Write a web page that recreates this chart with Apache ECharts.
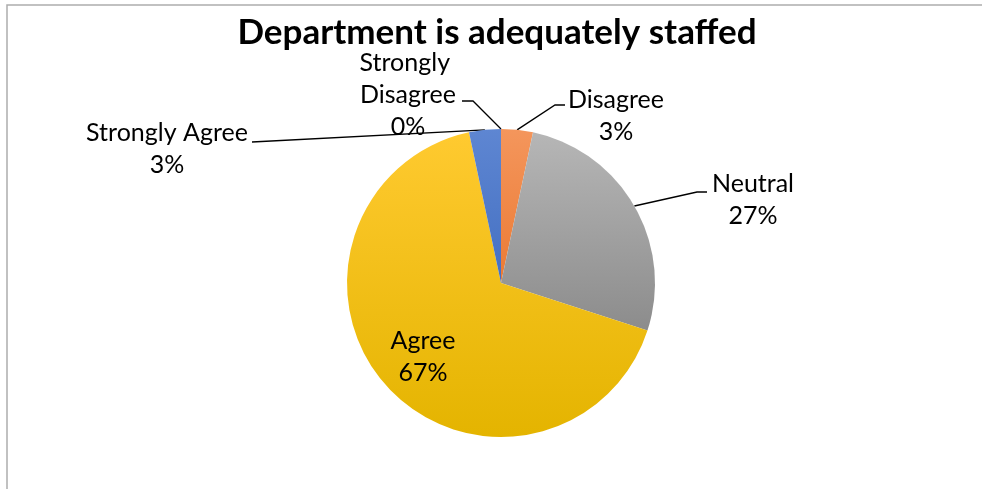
<!DOCTYPE html>
<html>
<head>
<meta charset="utf-8">
<style>
  html, body { margin: 0; padding: 0; background: #fff; }
  #chart { width: 982px; height: 489px; }
</style>
<script src="https://cdn.jsdelivr.net/npm/echarts@6/dist/echarts.min.js"></script>
</head>
<body>
<div id="chart"></div>
<script>
// Survey responses (counts) for "Department is adequately staffed"
const categories = ['Strongly Disagree', 'Disagree', 'Neutral', 'Agree', 'Strongly Agree'];
const counts = [0, 1, 8, 20, 1];
const titleText = 'Department is adequately staffed';

// Slice fills: [top colour, bottom colour] of each gradient
const sliceColors = [
  ['#4F7BCB', '#3F6BBE'],
  ['#F4965C', '#EB7A34'],
  ['#B6B6B6', '#8C8C8C'],
  ['#FFCA30', '#E4B400'],
  ['#5E86D2', '#4470C2']
];

const FONT = 'Lato, "Liberation Sans", sans-serif';
const CX = 501, CY = 283, R = 154;

// Label placement: centre of each label block, plus the elbow/end of its leader line
const labelPlaces = [
  { x: 408, y: 95,  line: [[473, 101], [462, 101]] },
  { x: 616, y: 116, line: [[555, 105], [565, 105]] },
  { x: 753, y: 200, line: [[697, 192], [707, 192]] },
  { x: 423, y: 357, line: null },
  { x: 167, y: 149, line: [[252, 142], [252, 142]] }
];

// Point on the rim at the middle of each slice (clockwise from 12 o'clock)
const total = counts.reduce((a, b) => a + b, 0);
function rimPoint(i) {
  let before = 0;
  for (let k = 0; k < i; k++) before += counts[k];
  const f = (before + counts[i] / 2) / total;
  const a = f * Math.PI * 2;
  return [CX + R * Math.sin(a), CY - R * Math.cos(a)];
}

const data = categories.map((name, i) => {
  const item = {
    name: name,
    value: counts[i],
    itemStyle: {
      color: {
        type: 'linear', x: 0, y: 0, x2: 0, y2: 1,
        colorStops: [
          { offset: 0, color: sliceColors[i][0] },
          { offset: 1, color: sliceColors[i][1] }
        ]
      }
    }
  };
  if (name === 'Agree') {
    item.label = { position: 'inside' };
    item.labelLine = { show: false };
  }
  if (name === 'Strongly Disagree') {
    item.label = { width: 120, overflow: 'break' };
  }
  return item;
});

const chart = echarts.init(document.getElementById('chart'), null, { renderer: 'canvas' });

chart.setOption({
  backgroundColor: '#ffffff',
  animation: false,
  graphic: [
    {
      type: 'polyline',
      shape: { points: [[7, 489], [7, 5], [982, 5]] },
      style: { stroke: '#ADADAD', lineWidth: 1.5, fill: null },
      silent: true
    },
    {
      type: 'text',
      x: 497, y: 33,
      style: {
        text: titleText,
        font: 'bold 35px ' + FONT,
        fill: '#000000',
        align: 'center',
        verticalAlign: 'middle'
      }
    }
  ],
  series: [{
    type: 'pie',
    center: [CX, CY],
    radius: R,
    startAngle: 90,
    clockwise: true,
    percentPrecision: 0,
    avoidLabelOverlap: false,
    data: data,
    itemStyle: { borderWidth: 0 },
    label: {
      show: true,
      formatter: '{b}\n{d}%',
      color: '#000000',
      fontFamily: FONT,
      fontSize: 25,
      lineHeight: 32,
      align: 'center'
    },
    labelLine: {
      show: true,
      lineStyle: { color: '#000000', width: 1.3 }
    },
    labelLayout: function (params) {
      const p = labelPlaces[params.dataIndex];
      const out = { x: p.x, y: p.y, align: 'center', verticalAlign: 'middle' };
      if (p.line) {
        out.labelLinePoints = [rimPoint(params.dataIndex), p.line[0], p.line[1]];
      }
      return out;
    },
    emphasis: { disabled: true }
  }]
});
</script>
</body>
</html>
